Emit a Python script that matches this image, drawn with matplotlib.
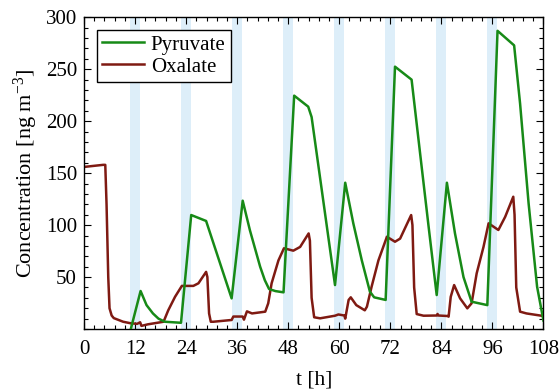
import matplotlib
matplotlib.use("Agg")
import matplotlib.pyplot as plt
from matplotlib.ticker import AutoMinorLocator

# Data
pyr_t = [11.0, 13.3, 14.7, 16.2, 17.5, 19.0, 22.8,
         25.2, 28.7, 34.7,
         37.3, 39.0, 41.4, 42.5, 43.5, 45.0, 46.9,
         49.4, 52.7, 53.5, 59.0,
         61.4, 63.3, 65.3, 67.2, 68.2, 70.9,
         73.1, 77.0, 79.0, 81.0, 82.9,
         85.3, 87.2, 89.2, 91.1, 94.8,
         97.2, 101.1, 102.5, 104.5, 106.5, 108.0]
pyr_v = [0, 36.6, 23, 15, 10, 7, 6,
         109.7, 104, 29.5,
         123.5, 95, 60, 47, 38.5, 36.5, 35.3,
         224.6, 214, 204, 42.3,
         140.8, 101.7, 66, 36, 30.5, 28,
         252.5, 240, 169, 98.5, 32.7,
         140.8, 92, 50, 26.3, 23,
         287, 273, 217, 121, 40.7, 8]

oxa_t = [0.0, 4.5, 5.0, 5.3, 5.7, 6.0, 6.5, 7.0, 9.2, 11.0, 12.5, 13.2, 13.5, 15.0,
         18.7, 19.8, 21.4, 23.0, 25.7, 26.9, 28.7, 29.0, 29.4, 29.8, 30.4, 34.7,
         35.1, 37.3, 37.6, 38.3, 39.5, 42.6, 43.3, 44.1, 45.7, 47.0, 49.2, 50.8,
         52.8, 53.1, 53.5, 54.1, 55.5, 59.0, 59.8, 61.2, 61.4, 62.2, 62.7, 64.0,
         66.0, 66.5, 67.6, 69.2, 71.2, 73.1, 74.3, 76.9, 77.2, 77.6, 78.2, 79.8,
         82.9, 83.1, 83.3, 85.5, 85.7, 86.2, 87.0, 88.4, 90.1, 91.1, 92.3, 93.9,
         95.1, 97.4, 99.0, 100.9, 101.2, 101.6, 102.5, 104.0, 108.0]
oxa_v = [156, 158, 158, 120, 50, 20, 13, 10.5, 7, 5.5, 5, 6.5, 3, 4.5,
         7, 18, 31, 41.5, 41.5, 44, 55, 50, 15, 7, 7, 8.7,
         12, 12, 9, 17, 15, 16.7, 24.7, 44, 66, 77.7, 75.4, 79,
         92, 85, 30, 11.3, 10.3, 12.8, 14, 13, 10, 28, 30.5, 23,
         18, 21.5, 40.7, 66, 88.8, 84, 87, 109.7, 100, 40, 14.4, 12.8,
         13, 14.5, 13, 12.5, 11.9, 31, 42.3, 29.5, 19.9, 24.7, 53.6, 79,
         101.7, 95.3, 108, 127.3, 110, 40, 16.7, 15, 12.5]

band_centers = [12, 24, 36, 48, 60, 72, 84, 96]
x_ticks = [0, 12, 24, 36, 48, 60, 72, 84, 96, 108]
y_ticks = [50, 100, 150, 200, 250, 300]

plt.rcParams['font.family'] = ['Liberation Serif', 'DejaVu Serif']
plt.rcParams['mathtext.fontset'] = 'custom'
plt.rcParams['mathtext.rm'] = 'Liberation Serif'
plt.rcParams['mathtext.it'] = 'Liberation Serif:italic'
plt.rcParams['mathtext.bf'] = 'Liberation Serif:bold'

fig = plt.figure(figsize=(5.6, 3.89), dpi=100)
ax = fig.add_axes([0.15, 0.1542, 0.8205, 0.8013])

for c in band_centers:
    ax.axvspan(c - 1.2, c + 1.1, color='#ddeef9', lw=0, zorder=0)

ax.plot(pyr_t, pyr_v, color='#178a17', lw=1.8, label='Pyruvate', zorder=3)
ax.plot(oxa_t, oxa_v, color='#7f1a12', lw=1.8, label='Oxalate', zorder=2)

ax.set_xlim(0, 108)
ax.set_ylim(0, 300)
ax.set_xticks(x_ticks)
ax.set_yticks(y_ticks)
ax.xaxis.set_minor_locator(AutoMinorLocator(5))
ax.yaxis.set_minor_locator(AutoMinorLocator(5))
ax.tick_params(which='both', direction='in', top=True, right=True, labelsize=15, width=0.8)
ax.tick_params(which='major', length=5)
ax.tick_params(which='minor', length=3)
ax.tick_params(axis='x', which='major', pad=8)
ax.tick_params(axis='y', which='major', pad=5)
for s in ax.spines.values():
    s.set_linewidth(1.0)

ax.set_xlabel('t [h]', fontsize=15.5, labelpad=8)
ax.set_ylabel('Concentration [ng m$^{\\mathregular{-3}}$]', fontsize=16, labelpad=4)

leg = ax.legend(loc='upper left', fontsize=15, frameon=True, fancybox=False,
                edgecolor='black', framealpha=1, handlelength=2.05,
                borderpad=0.25, labelspacing=0.12, handletextpad=0.3,
                borderaxespad=0.6)
leg.get_frame().set_linewidth(1.0)

fig.savefig('out.png', dpi=100)
